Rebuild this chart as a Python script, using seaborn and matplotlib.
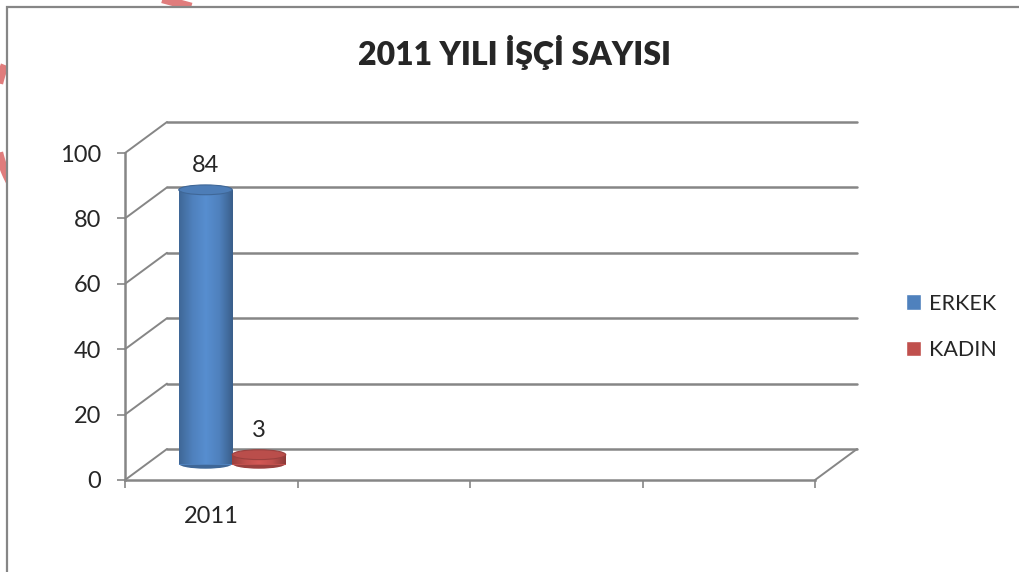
import matplotlib
matplotlib.use("Agg")
import matplotlib.pyplot as plt
import matplotlib.transforms as mtransforms
from matplotlib.colors import LinearSegmentedColormap, to_rgb
from matplotlib.lines import Line2D
from matplotlib.patches import Ellipse, Rectangle, Patch
import numpy as np
import pandas as pd
import seaborn as sns

# Data
years = ["2011"]
groups = ["ERKEK", "KADIN"]
counts = [84, 3]
y_ticks = [0, 20, 40, 60, 80, 100]
x_labels = ["2011", "", "", ""]  # 4 category slots, only the first is used

colors = {"ERKEK": "#4F81BD", "KADIN": "#C0504D"}
grey = "#868686"

df = pd.DataFrame({"year": years * len(groups), "group": groups, "count": counts})

sns.set_style("white")
plt.rcParams["font.family"] = ["Lato", "DejaVu Sans"]

W, H = 1019, 572
fig = plt.figure(figsize=(W / 100, H / 100), dpi=100)

# red dashed mark behind the chart (from the page the chart was cut out of)
s = np.linspace(np.arcsin(-0.53), np.pi / 2, 100)
fig.add_artist(Line2D((60 - 65 * np.cos(s)) / W, 1 - (118 + 100 * np.sin(s)) / H,
                      color="#E07C7C", lw=6, dashes=(6.5, 3), zorder=-3))
fig.add_artist(Line2D(np.array([155, 420]) / W, 1 - np.array([-3, 69]) / H,
                      color="#E07C7C", lw=6, dashes=(3.6, 5.3), zorder=-3))
# chart area with its border
fig.add_artist(Rectangle((7 / W, -0.1), 1.1, 1 - 7 / H + 0.1, transform=fig.transFigure,
                         facecolor="white", edgecolor=grey, lw=1.6, zorder=-2))

ax = fig.add_axes([125 / W, 1 - 480 / H, 690 / W, 327 / H])
ax.patch.set_alpha(0)

sns.barplot(data=df, x="year", y="count", hue="group", palette=colors,
            width=0.62, saturation=1, legend=False, ax=ax)

ax.set_xlim(-0.5, len(x_labels) - 0.5)
ax.set_ylim(0, 100)

# 3D depth: back wall is shifted right/up, bars sit half way
DX, DY = 42, 31
back = ax.transData + mtransforms.ScaledTranslation(DX / 100, DY / 100, fig.dpi_scale_trans)
half = ax.transData + mtransforms.ScaledTranslation(DX / 200, DY / 200, fig.dpi_scale_trans)
ident = mtransforms.IdentityTransform()

x0, x1 = ax.get_xlim()
for v in y_ticks:
    ax.plot([x0, x1], [v, v], color=grey, lw=1.8, transform=back, clip_on=False, zorder=1)
    p = ax.transData.transform((x0, v))
    ax.add_line(Line2D([p[0], p[0] + DX], [p[1], p[1] + DY], color=grey, lw=1.4,
                       transform=ident, clip_on=False, zorder=1))
p = ax.transData.transform((x1, 0))
ax.add_line(Line2D([p[0], p[0] + DX], [p[1], p[1] + DY], color=grey, lw=1.4,
                   transform=ident, clip_on=False, zorder=1))

# cylinders
cap = 3.0
for patch in list(ax.patches):
    x, w, h = patch.get_x(), patch.get_width(), patch.get_height()
    base = np.array(to_rgb(patch.get_facecolor()))
    dark, light = base * 0.8, np.minimum(base * 1.1, 1)
    cmap = LinearSegmentedColormap.from_list("cyl", [dark, base, light, base, dark * 0.92])
    patch.set_transform(half)
    patch.set_edgecolor("none")
    patch.set_zorder(3)
    ax.add_patch(Ellipse((x + w / 2, 0), w, cap, facecolor=dark, transform=half, zorder=2))
    im = ax.imshow(np.linspace(0, 1, 100)[None, :], extent=(x, x + w, 0, h), cmap=cmap,
                   aspect="auto", zorder=3.5)
    im.set_transform(half)
    im.set_clip_path(patch)
    ax.add_patch(Ellipse((x + w / 2, h), w, cap, facecolor=base * 0.97,
                         edgecolor=dark, lw=0.8, transform=half, zorder=4))
    ax.annotate(f"{h:g}", (x + w / 2, h), xytext=(DX / 2 * 0.72, (DY / 2 + 14) * 0.72),
                textcoords="offset points", ha="center", va="bottom", fontsize=17)

ax.set_xlim(x0, x1)
ax.set_ylim(0, 100)

ax.set_yticks(y_ticks)
ax.set_xticks(range(len(x_labels)))
ax.set_xticklabels(x_labels)
ax.set_xticks(np.arange(len(x_labels) + 1) - 0.5, minor=True)
ax.tick_params(axis="y", length=6, width=1.2, color=grey, pad=11, labelsize=17, left=True)
ax.tick_params(axis="x", which="major", length=0, pad=19, labelsize=17)
ax.tick_params(axis="x", which="minor", length=6, width=1.2, color=grey, bottom=True)
ax.set_xlabel("")
ax.set_ylabel("")
for side in ["top", "right"]:
    ax.spines[side].set_visible(False)
for side in ["left", "bottom"]:
    ax.spines[side].set_color(grey)
    ax.spines[side].set_linewidth(1.8)

fig.text(515 / W, 1 - 52 / H, "2011 YILI İŞÇİ SAYISI", ha="center", va="center",
         fontsize=23, fontweight="heavy")

handles = [Patch(facecolor=colors[g], label=g) for g in groups]
fig.legend(handles=handles, loc="center left", bbox_to_anchor=(906 / W, 1 - 327 / H),
           frameon=False, fontsize=15.5, handlelength=0.7, handleheight=0.7,
           handletextpad=0.35, labelspacing=1.25, borderpad=0, borderaxespad=0)

fig.savefig("out.png", dpi=100)
